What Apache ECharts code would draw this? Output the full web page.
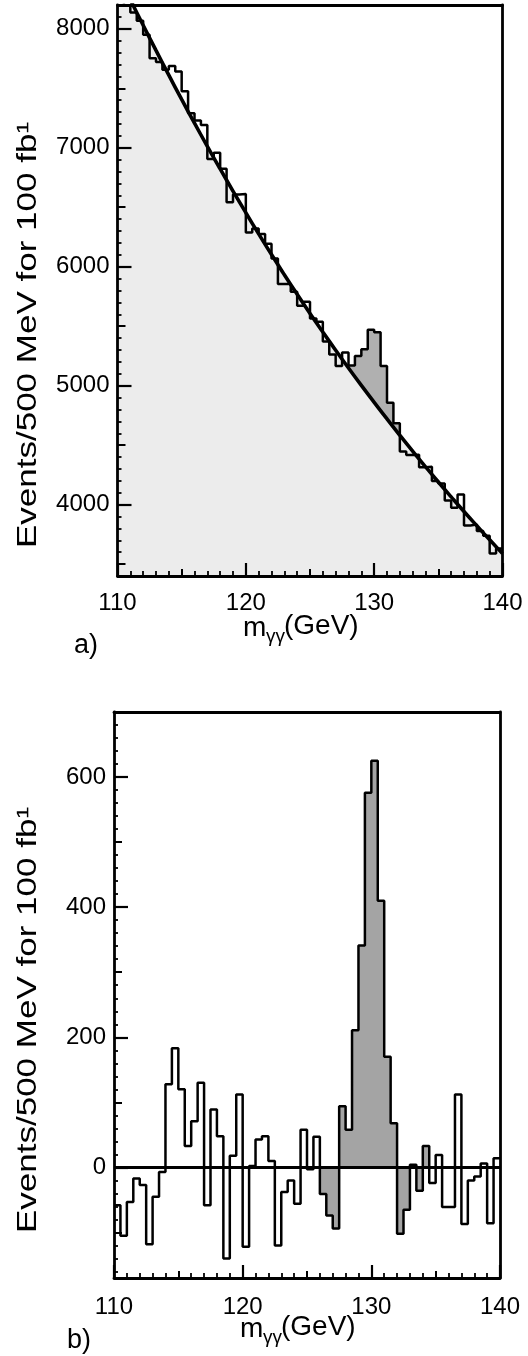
<!DOCTYPE html>
<html>
<head>
<meta charset="utf-8">
<script src="https://cdn.jsdelivr.net/npm/echarts@6/dist/echarts.min.js"></script>
<style>
  html, body { margin: 0; padding: 0; background: #fff; }
  #main { width: 528px; height: 1356px; }
</style>
</head>
<body>
<div id="main"></div>
<script>
// diphoton mass spectrum, 500 MeV bins from 110 to 140 GeV
var binStart = 110;
var binWidth = 0.5;

// a) events per bin (signal + background)
var topCounts = [8352, 8195, 8138, 8067, 7950, 7753, 7721, 7655, 7687, 7640,
                 7476, 7290, 7229, 7191, 6906, 6958, 6823, 6542, 6608, 6611,
                 6287, 6322, 6275, 6193, 6070, 5855, 5854, 5789, 5672, 5705,
                 5565, 5537, 5372, 5262, 5166, 5279, 5169, 5249, 5307, 5471,
                 5450, 5165, 4856, 4685, 4447, 4417, 4420, 4315, 4319, 4198,
                 4178, 4035, 3973, 4085, 3825, 3832, 3778, 3739, 3589, 3631];

// a) background fit, read at every GeV
var fitMass = [110, 111, 112, 113, 114, 115, 116, 117, 118, 119, 120,
               121, 122, 123, 124, 125, 126, 127, 128, 129, 130,
               131, 132, 133, 134, 135, 136, 137, 138, 139, 140];
var fitCounts = [8465, 8245, 8030, 7818, 7610, 7406, 7207, 7012, 6822, 6636, 6454,
                 6276, 6102, 5933, 5768, 5607, 5451, 5298, 5148, 5002, 4860,
                 4720, 4583, 4449, 4318, 4190, 4065, 3942, 3822, 3704, 3588];

// b) after background subtraction
var residuals = [-58, -105, -53, -17, -27, -118, -45, -7, 128, 183,
                 120, 33, 71, 130, -58, 89, 48, -140, 18, 112,
                 -122, 2, 43, 48, 10, -120, -38, -20, -56, 58,
                 -3, 47, -41, -74, -94, 94, 58, 211, 341, 576,
                 625, 410, 170, 68, -102, -65, 4, -36, 33, -24,
                 19, -61, -61, 112, -87, -20, -14, 6, -86, 14];

var massLabels = [110, 120, 130, 140];
var massMidTicks = [115, 125, 135];
var topLabels = [4000, 5000, 6000, 7000, 8000];
var topMidTicks = [3500, 4500, 5500, 6500, 7500];
var bottomLabels = [0, 200, 400, 600];
var bottomMidTicks = [-100, 100, 300, 500];

// shaded signal windows
var topSignal = [128, 132];
var bottomSignal = [126, 134.5];

var FONT = 'Liberation Sans';

function stepData(values, lo, hi) {
    var out = [];
    for (var i = 0; i < values.length; i++) {
        var x = binStart + i * binWidth;
        if (x >= lo && x < hi) out.push([x, values[i]]);
    }
    var last = out[out.length - 1];
    out.push([last[0] + binWidth, last[1]]);
    return out;
}

function minorList(from, to, step) {
    var out = [];
    for (var v = from; v <= to; v += step) out.push(v);
    return out;
}

function plain(v) { return String(v); }

var black = {color: '#000', width: 2.8};

function massAxes(gridIndex, margin) {
    return [
        {
            gridIndex: gridIndex, type: 'value', min: 110, max: 140, interval: 10,
            position: 'bottom', z: 10,
            axisLine: {show: true, onZero: false, lineStyle: black},
            axisTick: {inside: true, length: 13, lineStyle: {color: '#000', width: 2.2}},
            minorTick: {show: true, splitNumber: 10, length: 5, lineStyle: {color: '#000', width: 1.8}},
            axisLabel: {customValues: massLabels, margin: margin, fontSize: 24, fontFamily: FONT,
                        color: '#000', formatter: plain},
            splitLine: {show: false}, minorSplitLine: {show: false}
        },
        {
            gridIndex: gridIndex, type: 'value', min: 110, max: 140, position: 'bottom', z: 10,
            axisLine: {show: false, onZero: false},
            axisTick: {inside: true, length: 7, customValues: massMidTicks, lineStyle: {color: '#000', width: 2}},
            axisLabel: {show: false}, splitLine: {show: false}
        },
        {
            gridIndex: gridIndex, type: 'value', min: 110, max: 140, position: 'top', z: 10,
            axisLine: {show: true, onZero: false, lineStyle: black},
            axisTick: {show: false}, axisLabel: {show: false}, splitLine: {show: false}
        }
    ];
}

function countAxes(gridIndex, min, max, labels, mids, minors) {
    var base = {gridIndex: gridIndex, type: 'value', min: min, max: max, z: 10, splitLine: {show: false}};
    return [
        Object.assign({}, base, {
            position: 'left',
            axisLine: {show: true, onZero: false, lineStyle: black},
            axisTick: {inside: true, length: 14, customValues: labels, lineStyle: {color: '#000', width: 2.2}},
            axisLabel: {customValues: labels, margin: 8, fontSize: 24, fontFamily: FONT,
                        color: '#000', formatter: plain}
        }),
        Object.assign({}, base, {
            position: 'left',
            axisLine: {show: false, onZero: false},
            axisTick: {inside: true, length: 8, customValues: mids, lineStyle: {color: '#000', width: 2}},
            axisLabel: {show: false}
        }),
        Object.assign({}, base, {
            position: 'left',
            axisLine: {show: false, onZero: false},
            axisTick: {inside: true, length: 4, customValues: minors, lineStyle: {color: '#000', width: 1.8}},
            axisLabel: {show: false}
        }),
        Object.assign({}, base, {
            position: 'right',
            axisLine: {show: true, onZero: false, lineStyle: black},
            axisTick: {show: false}, axisLabel: {show: false}
        })
    ];
}

var fitData = fitMass.map(function (m, i) { return [m, fitCounts[i]]; });

var chart = echarts.init(document.getElementById('main'), null, {renderer: 'canvas'});

var option = {
    animation: false,
    backgroundColor: '#fff',
    grid: [
        {left: 117.5, top: 5, width: 385, height: 571},
        {left: 114, top: 712, width: 386, height: 566}
    ],
    xAxis: massAxes(0, 15).concat(massAxes(1, 17)),
    yAxis: countAxes(0, 3400, 8200, topLabels, topMidTicks, minorList(3400, 8200, 100))
        .concat(countAxes(1, -170, 700, bottomLabels, bottomMidTicks, minorList(-160, 700, 20))),
    series: [
        // a) excess over the fit, drawn first so the fit area hides the rest
        {
            type: 'line', xAxisIndex: 0, yAxisIndex: 0, step: 'end', symbol: 'none', z: 2,
            data: stepData(topCounts, topSignal[0], topSignal[1]),
            lineStyle: {width: 0},
            areaStyle: {color: '#b0b0b0', opacity: 1, origin: 'start'}
        },
        {
            type: 'line', xAxisIndex: 0, yAxisIndex: 0, smooth: true, symbol: 'none', z: 3,
            data: fitData,
            lineStyle: {width: 0},
            areaStyle: {color: '#ececec', opacity: 1, origin: 'start'}
        },
        {
            type: 'line', xAxisIndex: 0, yAxisIndex: 0, step: 'end', symbol: 'none', z: 4,
            data: stepData(topCounts, 110, 140),
            lineStyle: {color: '#000', width: 2.5}
        },
        {
            type: 'line', xAxisIndex: 0, yAxisIndex: 0, smooth: true, symbol: 'none', z: 5,
            data: fitData,
            lineStyle: {color: '#000', width: 3.6}
        },
        // b) background subtracted
        {
            type: 'line', xAxisIndex: 3, yAxisIndex: 4, step: 'end', symbol: 'none', z: 2,
            data: stepData(residuals, bottomSignal[0], bottomSignal[1]),
            lineStyle: {width: 0},
            areaStyle: {color: '#a4a4a4', opacity: 1, origin: 'auto'}
        },
        {
            type: 'line', xAxisIndex: 3, yAxisIndex: 4, step: 'end', symbol: 'none', z: 4,
            data: stepData(residuals, 110, 140),
            lineStyle: {color: '#000', width: 2.5},
            markLine: {
                silent: true, symbol: 'none', label: {show: false},
                lineStyle: {color: '#000', width: 2.8, type: 'solid'},
                data: [{yAxis: 0}]
            }
        }
    ],
    graphic: [
        {type: 'text', x: 28, y: 335, rotation: Math.PI / 2, scaleX: 1.25, z: 20,
         style: {text: 'Events/500 MeV for 100 fb\u00b9', fontSize: 28, fontFamily: FONT, fill: '#000',
                 align: 'center', verticalAlign: 'middle'}},
        {type: 'text', x: 28, y: 1020, rotation: Math.PI / 2, scaleX: 1.25, z: 20,
         style: {text: 'Events/500 MeV for 100 fb\u00b9', fontSize: 28, fontFamily: FONT, fill: '#000',
                 align: 'center', verticalAlign: 'middle'}},
        // x titles
        {type: 'text', x: 243, y: 628, z: 20,
         style: {text: 'm', fontSize: 28, fontFamily: FONT, fill: '#000', align: 'left', verticalAlign: 'middle'}},
        {type: 'text', x: 266, y: 637, z: 20,
         style: {text: '\u03b3\u03b3', fontSize: 19, fontFamily: FONT, fill: '#000', align: 'left', verticalAlign: 'middle'}},
        {type: 'text', x: 284, y: 626, z: 20,
         style: {text: '(GeV)', fontSize: 28, fontFamily: FONT, fill: '#000', align: 'left', verticalAlign: 'middle'}},
        {type: 'text', x: 240, y: 1329, z: 20,
         style: {text: 'm', fontSize: 28, fontFamily: FONT, fill: '#000', align: 'left', verticalAlign: 'middle'}},
        {type: 'text', x: 263, y: 1338, z: 20,
         style: {text: '\u03b3\u03b3', fontSize: 19, fontFamily: FONT, fill: '#000', align: 'left', verticalAlign: 'middle'}},
        {type: 'text', x: 281, y: 1327, z: 20,
         style: {text: '(GeV)', fontSize: 28, fontFamily: FONT, fill: '#000', align: 'left', verticalAlign: 'middle'}},
        // panel tags
        {type: 'text', x: 74, y: 646, z: 20,
         style: {text: 'a)', fontSize: 27, fontFamily: FONT, fill: '#000', align: 'left', verticalAlign: 'middle'}},
        {type: 'text', x: 67, y: 1341, z: 20,
         style: {text: 'b)', fontSize: 27, fontFamily: FONT, fill: '#000', align: 'left', verticalAlign: 'middle'}}
    ]
};

chart.setOption(option);
</script>
</body>
</html>
